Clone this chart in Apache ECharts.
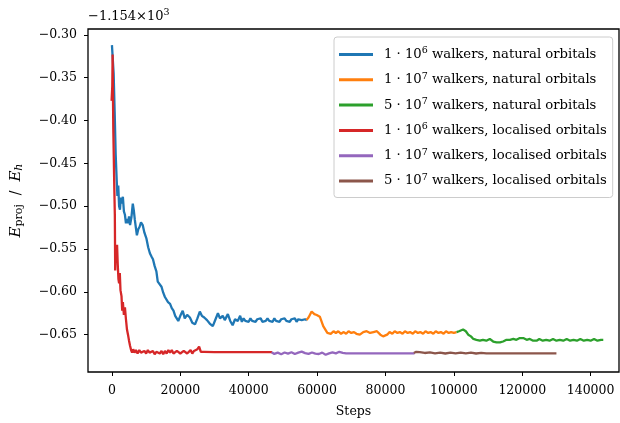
<!DOCTYPE html>
<html><head><meta charset="utf-8">
<script src="https://cdn.jsdelivr.net/npm/echarts@6/dist/echarts.min.js"></script>
<style>html,body{margin:0;padding:0;background:#fff}#c{width:620px;height:423px}</style>
</head><body><div id="c"></div>
<script>
const seriesNames = [
  '1 · 10^6 walkers, natural orbitals',
  '1 · 10^7 walkers, natural orbitals',
  '5 · 10^7 walkers, natural orbitals',
  '1 · 10^6 walkers, localised orbitals',
  '1 · 10^7 walkers, localised orbitals',
  '5 · 10^7 walkers, localised orbitals'
];
const xTicks = [0, 20000, 40000, 60000, 80000, 100000, 120000, 140000];
const yTicks = [-0.65, -0.60, -0.55, -0.50, -0.45, -0.40, -0.35, -0.30];

const blueSteps = [0,300,500,800,1100,1400,1600,1850,2100,2350,2600,2900,3200,3500,3800,4100,4400,4700,5000,5300,5700,6100,6400,6700,7000,7300,7700,8100,8500,9000,9500,10100,10600,11100,11600,12000,12500,13000,13400,13900,14500,15000,15500,16000,16400,17000,17500,18000,18500,19000,19400,20000,20700,21300,22000,22800,23500,24300,25000,25700,26300,27000,27800,28600,29500,30300,31000,31600,32400,33000,33900,34600,35300,36000,36800,37500,38000,38500,39000,39500,40000,40500,41000,41500,42000,42500,43000,43500,44000,44500,45000,45500,46000,46500,47000,47500,48000,48500,49000,49500,50000,50500,51000,51500,52000,52500,53000,53500,54000,54500,55000,55500,56000,56500,57000];
const blueVals = [-0.312,-0.312,-0.345,-0.390,-0.440,-0.470,-0.488,-0.476,-0.500,-0.504,-0.490,-0.497,-0.489,-0.506,-0.510,-0.520,-0.515,-0.520,-0.512,-0.522,-0.513,-0.497,-0.505,-0.516,-0.525,-0.534,-0.527,-0.524,-0.519,-0.522,-0.531,-0.538,-0.548,-0.555,-0.559,-0.562,-0.570,-0.576,-0.588,-0.590,-0.594,-0.601,-0.606,-0.605,-0.612,-0.614,-0.619,-0.622,-0.628,-0.630,-0.634,-0.628,-0.622,-0.631,-0.627,-0.630,-0.636,-0.638,-0.631,-0.623,-0.628,-0.630,-0.633,-0.637,-0.640,-0.632,-0.625,-0.631,-0.628,-0.633,-0.626,-0.634,-0.639,-0.632,-0.634,-0.628,-0.635,-0.631,-0.634,-0.632,-0.635,-0.631,-0.634,-0.632,-0.635,-0.632,-0.634,-0.631,-0.635,-0.633,-0.634,-0.631,-0.634,-0.632,-0.635,-0.631,-0.634,-0.633,-0.635,-0.632,-0.634,-0.631,-0.634,-0.633,-0.635,-0.632,-0.634,-0.631,-0.635,-0.632,-0.634,-0.633,-0.635,-0.632,-0.633];

const orangeSteps = [56900,57500,58400,59200,59900,60800,61800,63000,64000,64800,65500,66200,67000,67800,68500,69200,70000,70800,71500,72500,73500,74500,75500,76500,77500,78500,79300,80500,81200,82000,82700,83500,84200,85000,85700,86500,87200,88000,88700,89500,90200,91000,91700,92500,93200,94000,94700,95500,96200,97000,97700,98500,99200,100000,100800];
const orangeVals = [-0.633,-0.630,-0.623,-0.626,-0.627,-0.629,-0.640,-0.648,-0.649,-0.646,-0.648,-0.646,-0.649,-0.647,-0.649,-0.646,-0.648,-0.647,-0.649,-0.650,-0.647,-0.646,-0.648,-0.647,-0.646,-0.650,-0.652,-0.650,-0.647,-0.649,-0.646,-0.648,-0.647,-0.649,-0.646,-0.648,-0.647,-0.649,-0.646,-0.648,-0.647,-0.649,-0.646,-0.648,-0.647,-0.649,-0.646,-0.648,-0.647,-0.649,-0.646,-0.648,-0.647,-0.648,-0.647];

const greenSteps = [100800,101500,102700,103500,104200,105000,105700,106600,107600,108500,109500,110500,111500,112500,113500,114400,115400,116400,117400,118300,119300,120300,121300,122200,123200,124200,125000,126000,127000,128000,129000,130000,131000,132000,133000,134000,135000,136000,137000,138000,139000,140000,141000,142000,143000,143700];
const greenVals = [-0.647,-0.646,-0.644,-0.646,-0.650,-0.652,-0.655,-0.656,-0.657,-0.656,-0.657,-0.655,-0.658,-0.659,-0.659,-0.658,-0.656,-0.656,-0.655,-0.656,-0.654,-0.654,-0.656,-0.655,-0.657,-0.657,-0.655,-0.657,-0.656,-0.657,-0.655,-0.657,-0.656,-0.657,-0.655,-0.657,-0.656,-0.657,-0.655,-0.657,-0.656,-0.657,-0.655,-0.657,-0.656,-0.656];

const redSteps = [-100,100,200,300,400,550,700,850,950,1100,1300,1500,1700,1900,2100,2300,2500,2800,3000,3200,3500,3800,4100,4400,4700,5000,5300,5600,5900,6200,6600,7000,7500,8000,8500,9000,9500,10000,10500,11000,11500,12000,12500,13000,13500,14000,14500,15000,15500,16000,16500,17000,17500,18000,18500,19000,19500,20000,20500,21000,21500,22000,22500,23000,23500,24000,24500,25000,25500,26000,26500,27000,30000,35000,40000,46800];
const redVals = [-0.377,-0.360,-0.323,-0.370,-0.410,-0.445,-0.480,-0.510,-0.575,-0.545,-0.560,-0.545,-0.568,-0.585,-0.590,-0.578,-0.598,-0.605,-0.622,-0.612,-0.627,-0.618,-0.632,-0.644,-0.650,-0.657,-0.663,-0.668,-0.671,-0.667,-0.671,-0.668,-0.672,-0.668,-0.671,-0.673,-0.669,-0.672,-0.668,-0.671,-0.672,-0.669,-0.673,-0.670,-0.668,-0.672,-0.669,-0.673,-0.669,-0.672,-0.668,-0.671,-0.668,-0.672,-0.673,-0.669,-0.668,-0.672,-0.673,-0.669,-0.668,-0.672,-0.670,-0.668,-0.672,-0.669,-0.671,-0.667,-0.664,-0.670,-0.672,-0.670,-0.6705,-0.6705,-0.6705,-0.6705];

const purpleSteps = [46700,47500,48500,49500,50500,51500,52500,53500,54500,55500,56500,57500,58500,59500,60500,61500,62500,63500,64500,65500,66500,67500,68500,75000,82000,88500];
const purpleVals = [-0.6705,-0.6725,-0.6710,-0.6728,-0.6708,-0.6722,-0.6706,-0.6726,-0.6710,-0.6698,-0.6715,-0.6725,-0.6708,-0.6722,-0.6726,-0.6710,-0.6735,-0.6718,-0.6706,-0.6718,-0.6700,-0.6712,-0.6718,-0.6718,-0.6718,-0.6718];

const brownSteps = [88300,89000,90000,91500,93000,94500,96000,97500,99000,100500,102000,103500,105000,106500,108000,109500,115000,122000,130000];
const brownVals = [-0.6715,-0.6700,-0.6705,-0.6714,-0.6708,-0.6718,-0.6710,-0.6720,-0.6710,-0.6718,-0.6709,-0.6718,-0.6711,-0.6720,-0.6712,-0.6718,-0.6718,-0.6718,-0.6718];

const colors = ['#1f77b4','#ff7f0e','#2ca02c','#d62728','#9467bd','#8c564b'];
const stepsList = [blueSteps, orangeSteps, greenSteps, redSteps, purpleSteps, brownSteps];
const valsList = [blueVals, orangeVals, greenVals, redVals, purpleVals, brownVals];

const FONT = 'DejaVu Serif';
const FS = 12.5;
const LFS = 13.2;
const chart = echarts.init(document.getElementById('c'), null, {renderer: 'canvas'});
const fmt = (v, d) => (v < 0 ? '\u2212' : '') + Math.abs(v).toFixed(d);

chart.setOption({
  animation: false,
  backgroundColor: '#fff',
  textStyle: {fontFamily: FONT, color: '#000'},
  grid: {left: 88, right: 1, top: 29, bottom: 44, show: true, borderColor: '#000', borderWidth: 1.3, backgroundColor: 'transparent'},
  graphic: [{
    type: 'text', left: 88, top: 8,
    style: {
      text: '{t|\u22121.154\u00d710}{s|3}',
      rich: {
        t: {fontFamily: FONT, fontSize: 13, fill: '#000'},
        s: {fontFamily: FONT, fontSize: 9.5, fill: '#000', padding: [0, 0, 7, 0]}
      }
    }
  }],
  legend: {
    orient: 'vertical', left: 334, top: 37,
    padding: [9, 6, 8, 5],
    borderColor: '#cccccc', borderWidth: 1, borderRadius: 3,
    backgroundColor: 'rgba(255,255,255,0.8)',
    itemWidth: 34, itemHeight: 3, itemGap: 8.3,
    icon: 'rect',
    data: seriesNames,
    formatter: name => '{sp|}{t|' + name.replace(/\^(\d)/, '}{s|$1}{t|') + '}',
    textStyle: {
      fontFamily: FONT, fontSize: LFS, color: '#000',
      rich: {
        sp: {width: 6},
        t: {fontFamily: FONT, fontSize: LFS, color: '#000', lineHeight: 16},
        s: {fontFamily: FONT, fontSize: 9.5, color: '#000', padding: [0, 0, 7, 0], lineHeight: 16}
      }
    }
  },
  xAxis: {
    type: 'value', min: -7000, max: 148300,
    name: 'Steps', nameLocation: 'middle', nameGap: 33,
    nameTextStyle: {fontFamily: FONT, fontSize: FS, color: '#000'},
    axisLine: {show: false, onZero: false},
    splitLine: {show: false},
    axisTick: {show: true, inside: false, length: 4, lineStyle: {color: '#000', width: 1}, customValues: xTicks},
    axisLabel: {fontFamily: FONT, fontSize: FS, color: '#000', margin: 12, customValues: xTicks, formatter: v => fmt(v, 0)}
  },
  yAxis: {
    type: 'value', min: -0.6936, max: -0.2931,
    name: '{i|E}{b|proj}{t|  /  }{i|E}{bi|h}', nameLocation: 'middle', nameGap: 63, nameRotate: 90,
    nameTextStyle: {
      fontFamily: FONT, fontSize: FS, color: '#000',
      rich: {
        i: {fontFamily: FONT, fontStyle: 'italic', fontSize: 15, color: '#000'},
        t: {fontFamily: FONT, fontSize: 14, color: '#000'},
        b: {fontFamily: FONT, fontSize: 11, color: '#000', padding: [7, 0, 0, 0]},
        bi: {fontFamily: FONT, fontStyle: 'italic', fontSize: 11, color: '#000', padding: [7, 0, 0, 0]}
      }
    },
    axisLine: {show: false, onZero: false},
    splitLine: {show: false},
    axisTick: {show: true, inside: false, length: 4, lineStyle: {color: '#000', width: 1}, customValues: yTicks},
    axisLabel: {fontFamily: FONT, fontSize: FS, color: '#000', margin: 11, customValues: yTicks, formatter: v => fmt(Number(v), 2)}
  },
  series: seriesNames.map((n, k) => ({
    name: n, type: 'line', showSymbol: false, symbol: 'none',
    color: colors[k],
    lineStyle: {width: 2.3, color: colors[k]},
    data: stepsList[k].map((s, i) => [s, valsList[k][i]]),
    z: 2 + k
  }))
});
</script>
</body></html>
